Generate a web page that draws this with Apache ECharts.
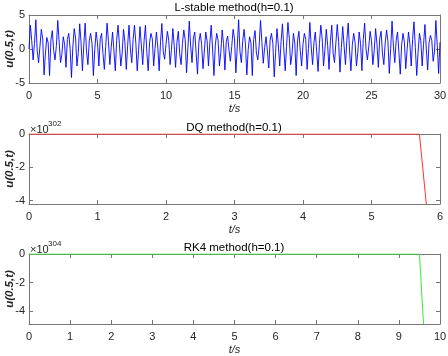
<!DOCTYPE html>
<html>
<head>
<meta charset="utf-8">
<script src="https://cdn.jsdelivr.net/npm/echarts@6/dist/echarts.min.js"></script>
<style>
  html, body { margin: 0; padding: 0; background: #fff; }
  #chart { width: 448px; height: 356px; }
</style>
</head>
<body>
<div id="chart"></div>
<script>
// time step of all three solvers
const h = 0.1;

// L-stable method: samples at t = 0.1 + 0.4k (peaks), 0.3 + 0.4k (troughs), 0.2k (in between)
const lsPeaks = [
  3.5, 4.3, 2.9, 1.7, 2.7, 4.2, 1.8, 2.3, 3.0, 3.7, 3.8, 2.3, 2.5, 2.3, 3.8,
  2.5, 3.5, 2.9, 3.5, 3.5, 3.3, 3.5, 2.3, 2.5, 3.75, 2.6, 3.0, 2.6, 2.8, 4.1,
  2.5, 2.3, 2.5, 3.5, 2.3, 2.8, 1.9, 2.9, 4.3, 2.9, 1.8, 2.7, 4.2, 1.8, 2.3,
  3.0, 3.7, 3.9, 2.3, 2.6, 2.3, 3.9, 2.5, 3.5, 2.9, 3.5, 3.6, 3.3, 3.8, 2.3,
  2.5, 3.8, 2.6, 3.0, 2.6, 2.8, 4.1, 2.5, 2.3, 2.5, 4.0, 2.3, 3.6, 2.0, 4.2
];
const lsTroughs = [
  -1.6, -2.0, -3.8, -3.9, -1.6, -2.0, -2.7, -4.2, -2.5, -3.2, -2.3, -3.9, -2.5, -3.0, -2.3,
  -3.2, -2.5, -3.0, -2.0, -3.2, -2.3, -3.2, -2.5, -3.2, -1.5, -2.3, -2.7, -2.3, -3.5, -2.0,
  -3.7, -2.9, -2.5, -3.9, -2.5, -3.1, -1.8, -3.5, -2.0, -3.8, -3.9, -1.6, -2.1, -2.8, -4.1,
  -2.5, -3.2, -2.3, -3.9, -2.5, -3.0, -2.3, -3.3, -2.5, -3.0, -2.0, -3.4, -2.3, -3.2, -2.5,
  -3.2, -1.6, -2.3, -2.7, -2.3, -3.6, -2.0, -3.7, -2.9, -2.5, -3.9, -2.5, -3.1, -1.8, -3.6
];
const lsMids = [
  0, 1.2, 0.8, -0.3, 0.4, 1.5, -0.6, 0.9, 1.3, -0.2, 0.5, 1.1, -0.8, 0.7, 1.4, 0.1, 0.3, 1.6, -0.5, 1.0,
  0.6, -0.4, 1.2, 0.8, -0.1, 0.9, 1.5, -0.7, 0.4, 1.1, 0.2, -0.3, 1.3, 0.7, -0.6, 1.0, 0.5, 0.0, 1.4, 0.8,
  -0.2, 0.6, 1.2, -0.5, 0.9, 1.5, 0.1, 0.3, 1.1, -0.4, 0.7, 1.3, -0.1, 0.5, 1.0, -0.7, 0.8, 1.4, 0.2, 0.4,
  1.6, -0.6, 1.0, 0.7, -0.3, 1.2, 0.9, 0.0, 0.6, 1.3, -0.5, 0.8, 1.1, -0.2, 0.4, 1.5, 0.3, -0.4, 1.2, 0.7,
  -0.1, 0.9, 1.4, -0.6, 0.5, 1.0, 0.2, -0.3, 1.3, 0.8, -0.5, 0.6, 1.1, 0.0, 0.4, 1.6, -0.7, 0.9, 1.2, -0.2,
  0.7, 1.4, 0.1, 0.3, 1.0, -0.4, 0.8, 1.5, -0.1, 0.5, 1.2, -0.6, 0.9, 1.1, 0.2, 0.4, 1.3, -0.3, 0.6, 1.0,
  -0.5, 0.8, 1.4, 0.0, 0.3, 1.2, -0.2, 0.7, 1.5, -0.6, 0.9, 1.1, 0.1, 0.4, 1.3, -0.4, 0.6, 1.0, -0.1, 0.8,
  1.4, 0.2, -0.5, 1.2, 0.7, 0.0, 0.9, 1.3, -0.3, 0.5, 1.0
];

// DQ method (u in units of 1e302), blows up after t = 5.7
const dqT = [0, 5.7, 5.8];
const dqU = [0, 0, -4.21];

// RK4 method (u in units of 1e304), blows up after t = 9.5
const rkT = [0, 9.5, 9.6];
const rkU = [0, 0, -4.9];

const titles = ['L-stable method(h=0.1)', 'DQ method(h=0.1)', 'RK4 method(h=0.1)'];

const font = 'Liberation Sans, Arial, Helvetica, sans-serif';
const axisColor = '#767676';
const textColor = '#262626';

function buildLs() {
  const out = [];
  for (let i = 0; i <= 300; i++) {
    let v;
    if (i % 2 === 0) v = lsMids[i / 2];
    else if (i % 4 === 1) v = lsPeaks[(i - 1) / 4];
    else v = lsTroughs[(i - 3) / 4];
    out.push([Math.round(i * h * 10) / 10, v]);
  }
  return out;
}

function pairs(ts, us) {
  return ts.map((t, i) => [t, us[i]]);
}

const grids = [
  { left: 29, top: 15, width: 411, height: 68, outerBoundsMode: 'none' },
  { left: 29, top: 134, width: 411, height: 70, outerBoundsMode: 'none' },
  { left: 29, top: 254, width: 411, height: 70, outerBoundsMode: 'none' }
];

function xAxes(gi, max, interval) {
  const base = {
    type: 'value', gridIndex: gi, min: 0, max: max, interval: interval,
    axisLine: { onZero: false, lineStyle: { color: axisColor, width: 1 } },
    axisTick: { inside: true, length: 4, lineStyle: { color: axisColor } },
    splitLine: { show: false }
  };
  return [
    Object.assign({}, base, {
      position: 'bottom',
      axisLabel: { margin: 7, color: textColor, fontSize: 11, fontFamily: font },
      name: 't/s', nameLocation: 'middle', nameGap: 20, nameMoveOverlap: false,
      nameTextStyle: { fontStyle: 'italic', fontSize: 11, color: textColor, fontFamily: font }
    }),
    Object.assign({}, base, { position: 'top', axisLabel: { show: false } })
  ];
}

function yAxes(gi, min, max, ticks) {
  const base = {
    type: 'value', gridIndex: gi, min: min, max: max,
    axisLine: { onZero: false, lineStyle: { color: axisColor, width: 1 } },
    axisTick: { inside: true, length: 4, customValues: ticks, lineStyle: { color: axisColor } },
    splitLine: { show: false }
  };
  return [
    Object.assign({}, base, {
      position: 'left',
      axisLabel: { margin: 4, color: textColor, fontSize: 11, fontFamily: font, customValues: ticks },
      name: 'u(0.5,t)', nameLocation: 'middle', nameGap: 13, nameRotate: 90, nameMoveOverlap: false,
      nameTextStyle: { fontStyle: 'italic', fontWeight: 'bold', fontSize: 11.5, color: textColor, fontFamily: font }
    }),
    Object.assign({}, base, { position: 'right', axisLabel: { show: false } })
  ];
}

const chart = echarts.init(document.getElementById('chart'), null, { renderer: 'canvas' });

const option = {
  animation: false,
  backgroundColor: '#fff',
  title: titles.map((t, i) => ({
    text: t, left: 234, top: [2, 122, 242][i], textAlign: 'center', padding: 0,
    textStyle: { fontSize: 11.5, fontWeight: 'normal', color: '#000', fontFamily: font }
  })),
  grid: grids,
  xAxis: [].concat(xAxes(0, 30, 5), xAxes(1, 6, 1), xAxes(2, 10, 1)),
  yAxis: [].concat(yAxes(0, -5, 5, [-5, 0, 5]), yAxes(1, -4.21, 0, [-4, -2, 0]), yAxes(2, -4.9, 0, [-4, -2, 0])),
  graphic: [
    { type: 'text', left: 30, top: 124, style: { text: '×10', fontSize: 11, fontFamily: font, fill: textColor } },
    { type: 'text', left: 48, top: 120, style: { text: '302', fontSize: 8, fontFamily: font, fill: textColor } },
    { type: 'text', left: 30, top: 244, style: { text: '×10', fontSize: 11, fontFamily: font, fill: textColor } },
    { type: 'text', left: 48, top: 240, style: { text: '304', fontSize: 8, fontFamily: font, fill: textColor } }
  ],
  series: [
    {
      type: 'line', xAxisIndex: 0, yAxisIndex: 0, data: buildLs(),
      showSymbol: false, lineStyle: { color: '#0000ff', width: 0.9 }
    },
    {
      type: 'line', xAxisIndex: 2, yAxisIndex: 2, data: pairs(dqT, dqU),
      showSymbol: false, lineStyle: { color: '#ff3333', width: 1 }
    },
    {
      type: 'line', xAxisIndex: 4, yAxisIndex: 4, data: pairs(rkT, rkU),
      showSymbol: false, lineStyle: { color: '#33ee33', width: 1 }
    }
  ]
};

chart.setOption(option);
</script>
</body>
</html>
